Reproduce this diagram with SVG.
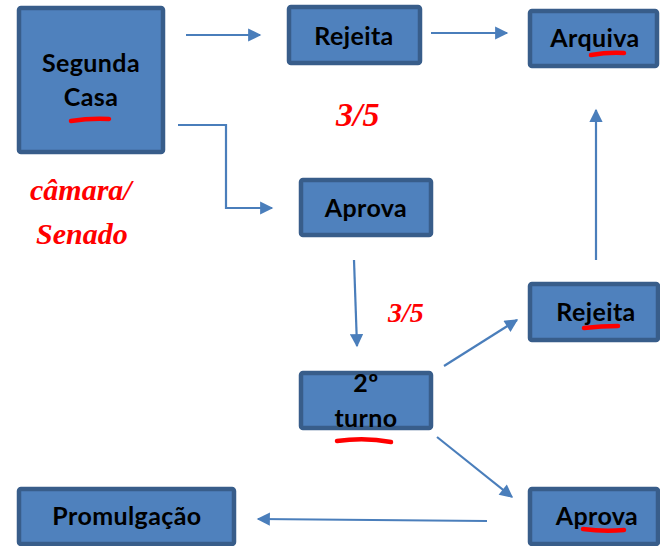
<svg xmlns="http://www.w3.org/2000/svg" width="660" height="546" viewBox="0 0 660 546">
<defs>
<marker id="ah" viewBox="0 0 10 10" refX="9" refY="5" markerWidth="6.5" markerHeight="6" orient="auto" markerUnits="strokeWidth">
<path d="M0,0 L10,5 L0,10 z" fill="#4A7EBB"/>
</marker>
</defs>
<style>
.box{fill:#4F81BD;stroke:#385D8A;stroke-width:4.5}
.lbl{font-family:Lato,"Liberation Sans",sans-serif;font-weight:bold;font-size:25px;letter-spacing:0.4px;fill:#000;text-anchor:middle}
.con{fill:none;stroke:#4A7EBB;stroke-width:2.2;marker-end:url(#ah)}
.ul{fill:none;stroke:#FF0000;stroke-width:4.5;stroke-linecap:round}
.hw{font-family:"Liberation Serif",serif;font-style:italic;font-weight:bold;fill:#FF0000}
</style>
<rect width="660" height="546" fill="#fff"/>
<g id="connectors">
<path class="con" d="M186,35 L260,35"/>
<path class="con" d="M431,33 L507,33"/>
<path class="con" d="M178,125 L226,125 L226,208 L272,208"/>
<path class="con" d="M354,260 L357,346"/>
<path class="con" d="M444,366 L517,320"/>
<path class="con" d="M596,260 L596,110"/>
<path class="con" d="M437,437 L512,497"/>
<path class="con" d="M487,521 L258,519"/>
</g>
<g id="segunda-casa">
<rect class="box" x="19" y="8" width="144" height="144" rx="2"/>
<text class="lbl" x="91" y="72">Segunda</text>
<text class="lbl" x="91" y="106">Casa</text>
</g>
<g id="rejeita-top">
<rect class="box" x="289" y="7" width="131" height="56" rx="2"/>
<text class="lbl" x="354" y="45">Rejeita</text>
</g>
<g id="arquiva">
<rect class="box" x="530" y="11" width="127" height="55" rx="2"/>
<text class="lbl" x="595" y="47">Arquiva</text>
</g>
<g id="aprova-mid">
<rect class="box" x="301" y="180" width="130" height="55" rx="2"/>
<text class="lbl" x="366" y="217">Aprova</text>
</g>
<g id="rejeita-right">
<rect class="box" x="530" y="284" width="128" height="56" rx="2"/>
<text class="lbl" x="596" y="321">Rejeita</text>
</g>
<g id="segundo-turno">
<rect class="box" x="301" y="373" width="130" height="55" rx="2"/>
<text class="lbl" x="366" y="392">2º</text>
<text class="lbl" x="366" y="427">turno</text>
</g>
<g id="promulgacao">
<rect class="box" x="19" y="489" width="215" height="55" rx="2"/>
<text class="lbl" x="127" y="525">Promulgação</text>
</g>
<g id="aprova-bottom">
<rect class="box" x="530" y="489" width="128" height="55" rx="2"/>
<text class="lbl" x="597" y="525">Aprova</text>
</g>
<g id="annotations">
<path class="ul" d="M71,121 Q90,118 109,119"/>
<path class="ul" d="M591,55 Q608,52 624,53"/>
<path class="ul" d="M584,328 Q601,326 618,326"/>
<path class="ul" d="M337,441 Q365,437 391,442"/>
<path class="ul" d="M583,529 Q604,532 624,530"/>
<text class="hw" x="336" y="126" font-size="34">3/5</text>
<text class="hw" x="388" y="322" font-size="28">3/5</text>
<text class="hw" x="30" y="200" font-size="30">câmara/</text>
<text class="hw" x="36" y="244" font-size="30">Senado</text>
</g>
</svg>
